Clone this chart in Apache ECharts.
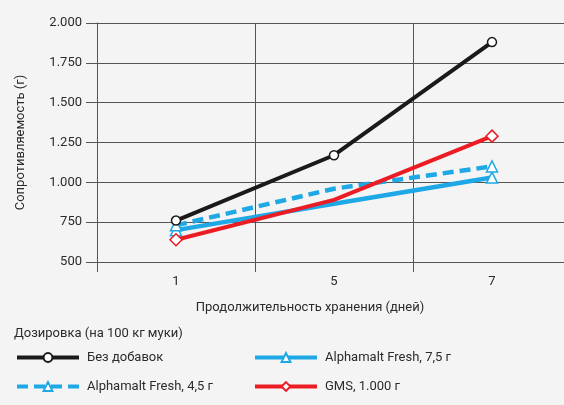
<!DOCTYPE html>
<html>
<head>
<meta charset="utf-8">
<script src="https://cdn.jsdelivr.net/npm/echarts@6/dist/echarts.min.js"></script>
<style>
html,body{margin:0;padding:0;background:#f4f4f4;}
#c{width:564px;height:405px;}
</style>
</head>
<body>
<div id="c"></div>
<script>
const categories = ['1', '5', '7'];
const noAdditive = [760, 1170, 1880];
const alpha45 = [730, 960, 1100];
const alpha75 = [700, 865, 1030];
const gms = [640, 890, 1290];
const seriesNames = ['Без добавок', 'Alphamalt Fresh, 4,5 г', 'Alphamalt Fresh, 7,5 г', 'GMS, 1.000 г'];
const yTicks = [500, 750, 1000, 1250, 1500, 1750, 2000];

const FONT = 'Roboto';
const TXT = '#2b2b2b';
const BLUE = '#1ea8e6';
const RED = '#ec1c24';
const BLACK = '#1a1a1a';

function pts(arr, hideMiddle) {
  return arr.map((v, i) => (hideMiddle && i === 1) ? { value: v, symbol: 'none' } : v);
}

const legendCommon = {
  orient: 'vertical', top: 351, padding: 0,
  itemWidth: 62, itemHeight: 11, itemGap: 16,
  lineStyle: { width: 4 },
  textStyle: { fontFamily: FONT, fontSize: 13, color: TXT, padding: [0, 0, 0, 3] }
};

const chart = echarts.init(document.getElementById('c'));
chart.setOption({
  backgroundColor: '#f4f4f4',
  animation: false,
  textStyle: { fontFamily: FONT },
  title: {
    text: 'Дозировка (на 100 кг муки)',
    left: 9, top: 322,
    textStyle: { fontFamily: FONT, fontSize: 13, fontWeight: 'normal', color: TXT }
  },
  legend: [
    Object.assign({ data: [seriesNames[0], seriesNames[1]], left: 15 }, legendCommon),
    Object.assign({ data: [seriesNames[2], seriesNames[3]], left: 253 }, legendCommon)
  ],
  grid: { left: 97, width: 474, top: 23, bottom: 143, containLabel: false, outerBoundsMode: 'none' },
  xAxis: {
    type: 'category',
    data: categories,
    boundaryGap: true,
    name: 'Продолжительность хранения (дней)',
    nameLocation: 'middle',
    nameGap: 39,
    nameTextStyle: { fontFamily: FONT, fontSize: 13, color: TXT, padding: [0, 48, 0, 0] },
    axisLine: { show: true, lineStyle: { color: '#555', width: 1 } },
    axisTick: { show: true, length: 10, lineStyle: { color: '#555', width: 1 } },
    axisLabel: { margin: 13, fontFamily: FONT, fontSize: 13, color: TXT },
    splitLine: { show: true, lineStyle: { color: '#555', width: 1 } }
  },
  yAxis: {
    type: 'value',
    min: 500, max: 2000, interval: 250,
    name: 'Сопротивляемость (г)',
    nameLocation: 'middle',
    nameGap: 70,
    nameTextStyle: { fontFamily: FONT, fontSize: 13, color: TXT },
    axisLine: { show: true, lineStyle: { color: '#555', width: 1 } },
    axisTick: { show: true, length: 11, lineStyle: { color: '#555', width: 1 } },
    axisLabel: {
      margin: 15, fontFamily: FONT, fontSize: 13, color: TXT,
      formatter: v => yTicks.includes(v) ? (v >= 1000 ? (v / 1000).toFixed(3) : String(v)) : ''
    },
    splitLine: { show: true, lineStyle: { color: '#555', width: 1 } }
  },
  series: [
    {
      name: seriesNames[2], type: 'line', data: pts(alpha75, true),
      symbol: 'triangle', symbolSize: 11,
      lineStyle: { color: BLUE, width: 4.5 },
      itemStyle: { color: '#fff', borderColor: BLUE, borderWidth: 1.5 },
      z: 2
    },
    {
      name: seriesNames[1], type: 'line', data: pts(alpha45, true),
      symbol: 'triangle', symbolSize: 11,
      lineStyle: { color: BLUE, width: 4.5, type: [11, 6] },
      itemStyle: { color: '#fff', borderColor: BLUE, borderWidth: 1.5 },
      z: 3
    },
    {
      name: seriesNames[3], type: 'line', data: pts(gms, true),
      symbol: 'diamond', symbolSize: 12,
      lineStyle: { color: RED, width: 4 },
      itemStyle: { color: '#fff', borderColor: RED, borderWidth: 1.5 },
      z: 4
    },
    {
      name: seriesNames[0], type: 'line', data: pts(noAdditive, false),
      symbol: 'circle', symbolSize: 9,
      lineStyle: { color: BLACK, width: 4 },
      itemStyle: { color: '#fff', borderColor: BLACK, borderWidth: 1.5 },
      z: 5
    }
  ]
});
</script>
</body>
</html>
